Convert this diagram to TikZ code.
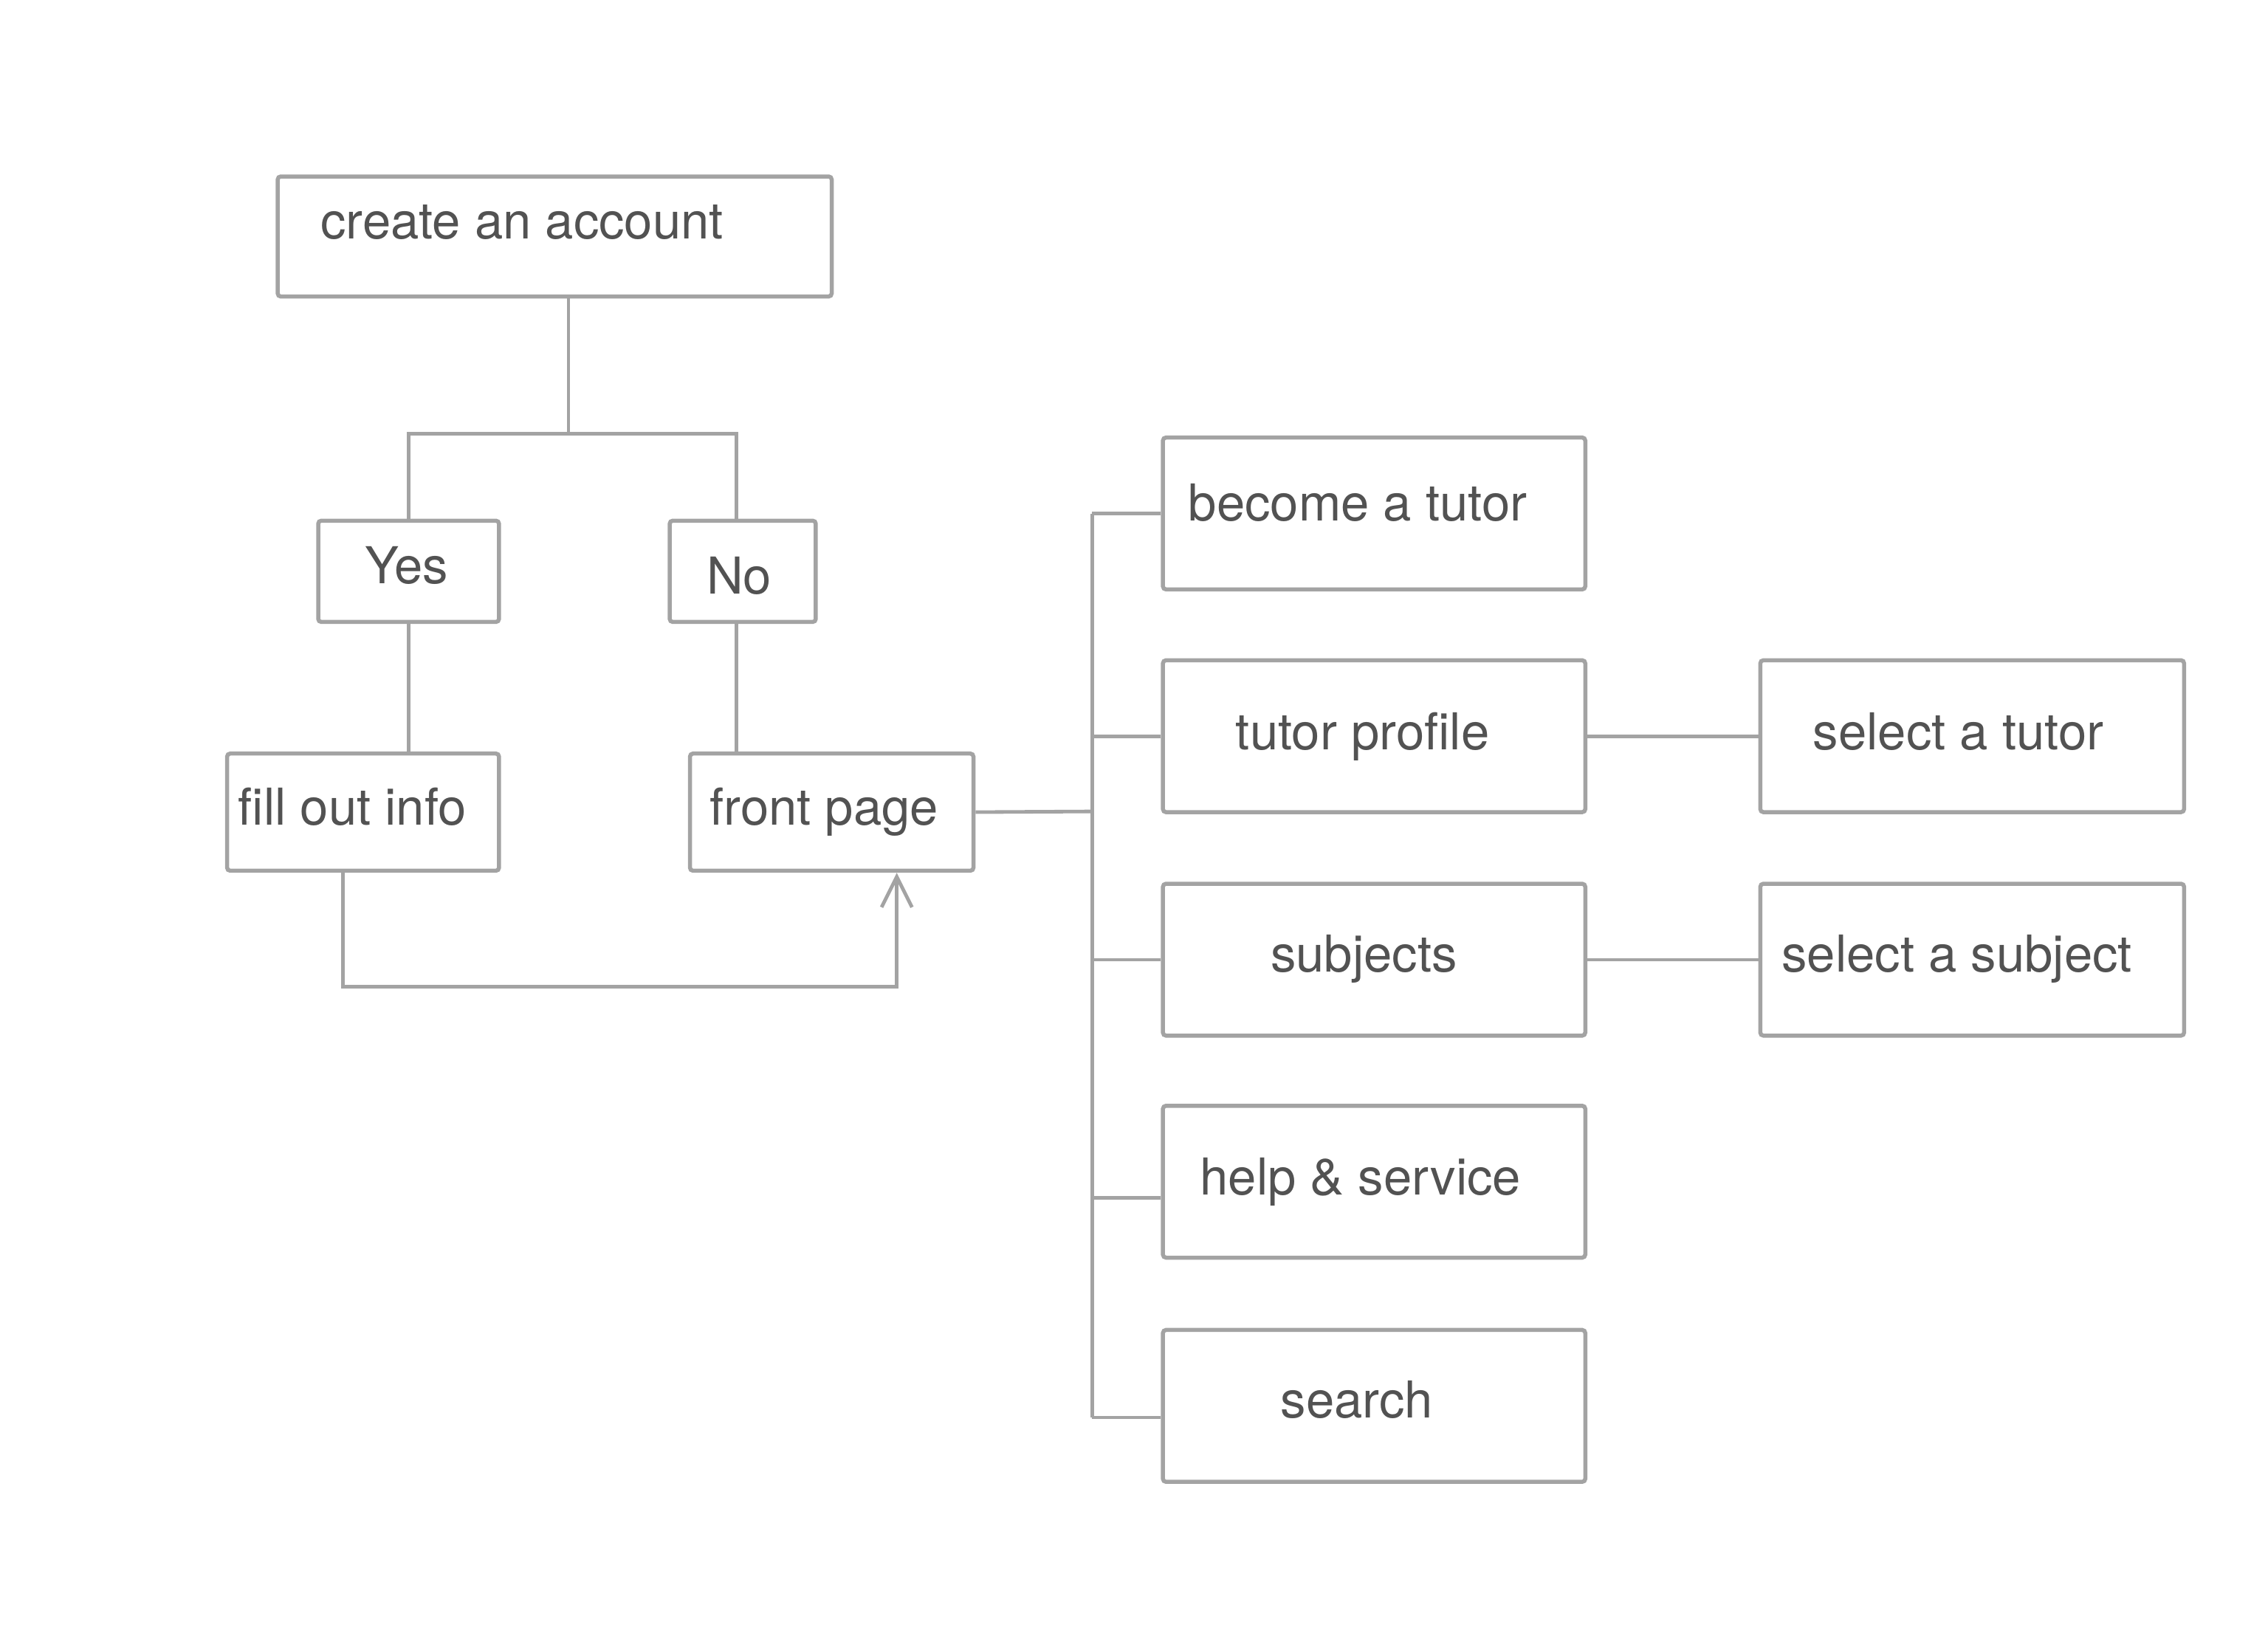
\documentclass[tikz,border=0pt]{standalone}
\usepackage{fontspec}
\setmainfont{TeX Gyre Heros}
\usetikzlibrary{arrows.meta}
\definecolor{boxgray}{gray}{0.64}
\definecolor{txtgray}{gray}{0.32}

\tikzset{
  box/.style={draw=boxgray, line width=0.8pt, rounded corners=0.6pt, inner sep=0pt},
  txt/.style={text=txtgray, inner sep=0pt},
  wire/.style={draw=boxgray, line width=0.7pt},
}

\begin{document}
\begin{tikzpicture}[x=0.1mm, y=-0.1mm, font=\fontsize{10}{12}\selectfont]
  \useasboundingbox (0,0) rectangle (1568,1131);
  % left part
  \node[box, minimum width=3.83cm, minimum height=0.83cm] (acct) at (383.5,163.5) {};
  \node[box, minimum width=1.25cm, minimum height=0.70cm] (yes) at (282.5,395) {};
  \node[box, minimum width=1.01cm, minimum height=0.70cm] (no) at (513.5,395) {};
  \node[box, minimum width=1.88cm, minimum height=0.81cm] (fill) at (251,561.5) {};
  \node[box, minimum width=1.96cm, minimum height=0.81cm] (front) at (575,561.5) {};
  \node[txt, anchor=mid west] (acct-t) at (221,156) {create an account};
  \node[txt] (yes-t) at (281,391) {Yes};
  \node[txt] (no-t) at (511,398) {No};
  \node[txt, anchor=mid west] (fill-t) at (164,561) {fill out info};
  \node[txt, anchor=mid west] (front-t) at (490,561) {front page};
  % right part
  \node[box, minimum width=2.92cm, minimum height=1.05cm] (btutor) at (950,355) {};
  \node[box, minimum width=2.92cm, minimum height=1.05cm] (tprof) at (950,509) {};
  \node[box, minimum width=2.92cm, minimum height=1.05cm] (subj) at (950,663.5) {};
  \node[box, minimum width=2.92cm, minimum height=1.05cm] (help) at (950,817) {};
  \node[box, minimum width=2.92cm, minimum height=1.05cm] (search) at (950,972) {};
  \node[box, minimum width=2.93cm, minimum height=1.05cm] (seltutor) at (1363.5,509) {};
  \node[box, minimum width=2.93cm, minimum height=1.05cm] (selsubj) at (1363.5,663.5) {};
  \node[txt, anchor=mid west] (btutor-t) at (821,351) {become a tutor};
  \node[txt, anchor=mid] (tprof-t) at (942,509) {tutor profile};
  \node[txt, anchor=mid] (subj-t) at (943,663) {subjects};
  \node[txt, anchor=mid west] (help-t) at (829,817) {help \& service};
  \node[txt, anchor=mid] (search-t) at (938,971) {search};
  \node[txt, anchor=mid] (seltutor-t) at (1354,509) {select a tutor};
  \node[txt, anchor=mid] (selsubj-t) at (1353,663) {select a subject};

  % yes / no split
  \coordinate (split) at (393,300);
  \coordinate (nodrop) at (509,300);
  \draw[wire] (acct.south -| split) -- (split);
  \draw[wire] (yes.north) |- (split) -- (nodrop) -- (nodrop |- no.north);
  \draw[wire] (yes.south) -- (yes.south |- fill.north);
  \draw[wire] (nodrop |- no.south) -- (nodrop |- front.north);
  % back to the front page
  \coordinate (loopa) at (237,682);
  \coordinate (loopb) at (620,682);
  \draw[wire, -{Straight Barb[length=6pt,width=6pt]}] (loopa |- fill.south) -- (loopa) -- (loopb) -- (loopb |- front.south);
  % menu bus
  \coordinate (bus) at (755,561);
  \coordinate (helpin) at ([yshift=-0.11cm]help.west);
  \coordinate (searchin) at ([yshift=-0.08cm]search.west);
  \draw[wire] (front.east) -- (bus);
  \draw[wire] (bus |- btutor.west) -- (bus |- searchin);
  \foreach \n in {btutor, tprof, subj}
    \draw[wire] (bus |- \n.west) -- (\n.west);
  \draw[wire] (bus |- helpin) -- (helpin);
  \draw[wire] (bus |- searchin) -- (searchin);
  \draw[wire] (tprof.east) -- (seltutor.west);
  \draw[wire] (subj.east) -- (selsubj.west);
\end{tikzpicture}
\end{document}
